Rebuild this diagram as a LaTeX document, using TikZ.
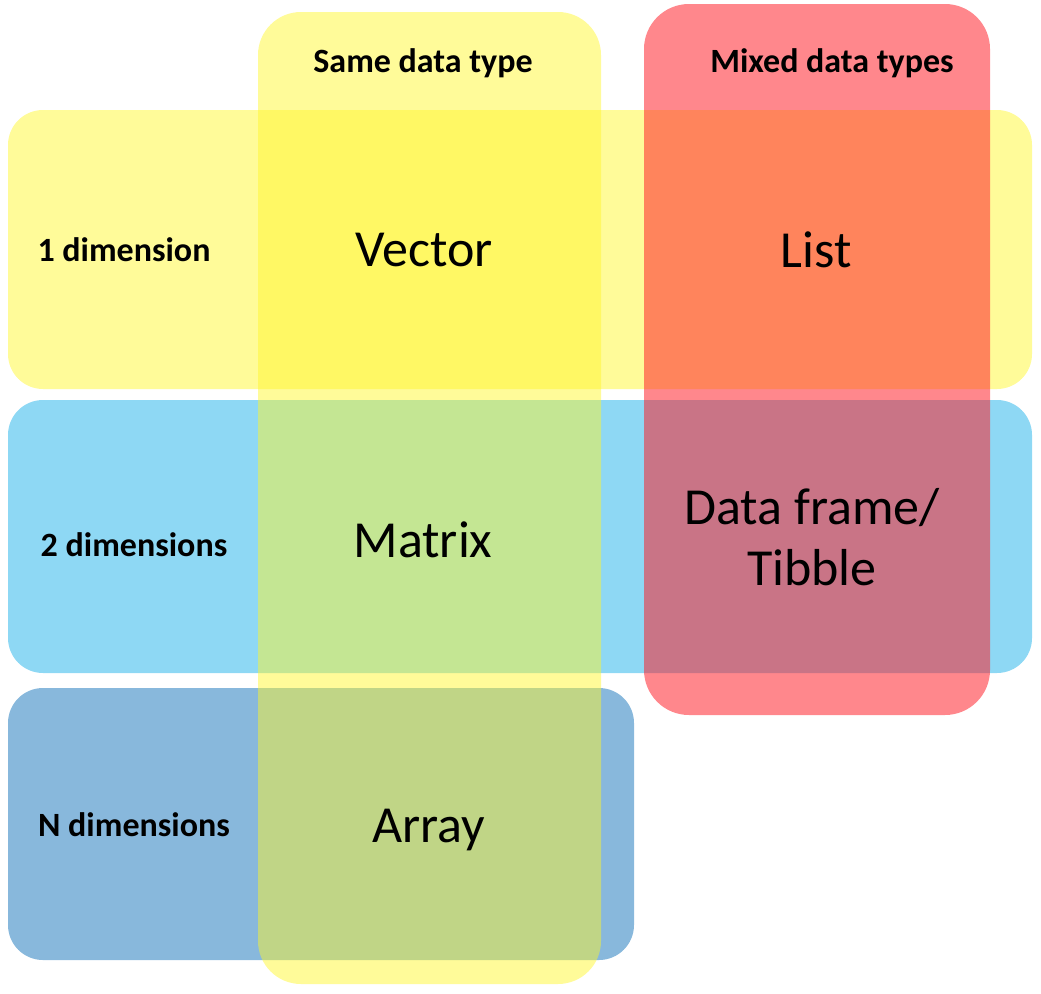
\documentclass[tikz,border=0pt]{standalone}
\usepackage{fontspec}
\setmainfont{Carlito}
\definecolor{bandyellow}{RGB}{255,246,42}
\definecolor{bandblue}{RGB}{142,216,244}
\definecolor{banddeep}{RGB}{136,184,220}
\definecolor{bandred}{RGB}{255,28,38}
\begin{document}
\begin{tikzpicture}[x=1pt,y=-1pt,
  band/.style={inner sep=0pt, outer sep=0pt, draw=none, rectangle, rounded corners=35pt},
  colband/.style={band, rounded corners=43pt},
  head/.style={font=\fontsize{34}{40}\selectfont\bfseries, inner sep=0pt},
  rowlabel/.style={font=\fontsize{34}{40}\selectfont\bfseries, inner sep=0pt},
  kind/.style={font=\fontsize{52}{61}\selectfont, inner sep=0pt, align=center}]
\useasboundingbox (0,0) rectangle (1041,993);

% rows: dimensionality
\node[band, fill=bandyellow, fill opacity=0.48, minimum width=1024pt, minimum height=279pt] (row1) at (520,249.5) {};
\node[band, fill=bandblue, minimum width=1024pt, minimum height=273pt] (row2) at (520,536.5) {};
\node[band, fill=banddeep, minimum width=626pt, minimum height=272pt] (row3) at (321,824) {};

% columns: homogeneity of element types
\node[colband, fill=bandyellow, fill opacity=0.48, minimum width=343pt, minimum height=972pt] (same) at (429.5,498) {};
\node[colband, rounded corners=45pt, fill=bandred, fill opacity=0.53, minimum width=346pt, minimum height=711pt] (mixed) at (817,359.5) {};

% column headings
\node[head] (samelbl) at (423,63) {Same data type};
\node[head] (mixedlbl) at (832,63) {Mixed data types};

% row headings
\node[rowlabel] (dim1) at (124,250) {1 dimension};
\node[rowlabel] (dim2) at (134,545) {2 dimensions};
\node[rowlabel] (dimn) at (134,825) {N dimensions};

% structures
\node[kind] (vector) at (424,250) {Vector};
\node[kind] (list) at (816,250) {List};
\node[kind] (matrix) at (423,540) {Matrix};
\node[kind] (frame) at (812,537) {Data frame/\\Tibble};
\node[kind] (array) at (429,830) {Array};
\end{tikzpicture}
\end{document}
